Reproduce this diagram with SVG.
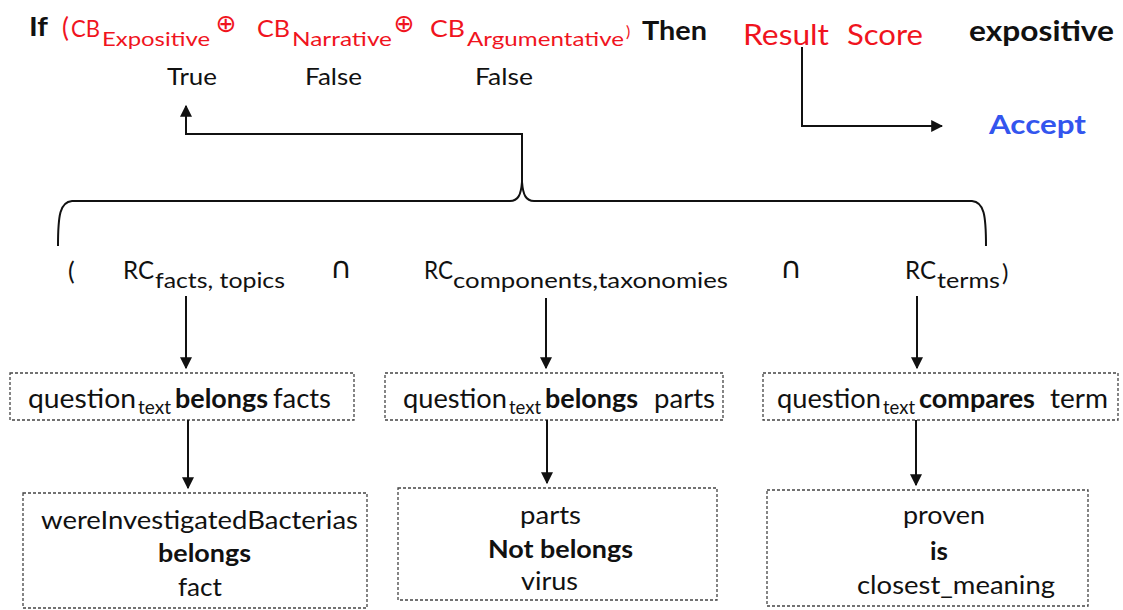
<svg xmlns="http://www.w3.org/2000/svg" width="1123" height="610" viewBox="0 0 1123 610">
  <style>
    text { font-family: Lato, "Liberation Sans", sans-serif; fill: #111; }
    .b { font-weight: bold; }
    .red { fill: #f0141e; }
    .blue { fill: #3355ee; }
    .op { font-family: "DejaVu Sans", sans-serif; }
    .line { fill: none; stroke: #111; stroke-width: 2; }
    .box { fill: #fff; stroke: #444; stroke-width: 1.3; stroke-dasharray: 3 2; }
    .t25 { font-size: 25px; }
    .q { font-size: 26px; }
    .qs { font-size: 20px; }
    .sub { font-size: 21px; }
  </style>
  <defs>
    <marker id="arrow" viewBox="0 0 10 10" refX="9" refY="5" markerWidth="6" markerHeight="6" orient="auto" markerUnits="strokeWidth">
      <path d="M0,0 L10,5 L0,10 Z" fill="#111"/>
    </marker>
  </defs>

  <!-- rule header: If (CB ⊕ CB ⊕ CB) Then -->
  <g id="rule">
    <text x="29" y="36" class="b" font-size="27" textLength="19" lengthAdjust="spacingAndGlyphs">If</text>
    <text x="62" y="37" class="red" font-size="26">(</text>
    <text x="71" y="37" class="red" font-size="24" textLength="29" lengthAdjust="spacingAndGlyphs">CB</text>
    <text x="102" y="46" class="red" font-size="20" textLength="108" lengthAdjust="spacingAndGlyphs">Expositive</text>
    <text x="226" y="32" class="red op" font-size="25" text-anchor="middle">⊕</text>
    <text x="257" y="37" class="red" font-size="24" textLength="33" lengthAdjust="spacingAndGlyphs">CB</text>
    <text x="292" y="46" class="red" font-size="20" textLength="100" lengthAdjust="spacingAndGlyphs">Narrative</text>
    <text x="404" y="32" class="red op" font-size="25" text-anchor="middle">⊕</text>
    <text x="430" y="37" class="red" font-size="24" textLength="35" lengthAdjust="spacingAndGlyphs">CB</text>
    <text x="467" y="46" class="red" font-size="20" textLength="157" lengthAdjust="spacingAndGlyphs">Argumentative</text>
    <text x="626" y="37" class="red" font-size="16">)</text>
    <text x="642" y="40" class="b" font-size="26" textLength="65" lengthAdjust="spacingAndGlyphs">Then</text>
  </g>

  <g id="truth-values">
    <text x="167" y="85" font-size="24" textLength="50" lengthAdjust="spacingAndGlyphs">True</text>
    <text x="305" y="85" font-size="24" textLength="57" lengthAdjust="spacingAndGlyphs">False</text>
    <text x="475" y="85" font-size="24" textLength="58" lengthAdjust="spacingAndGlyphs">False</text>
  </g>

  <g id="result-score">
    <text x="743" y="45" class="red" font-size="29" textLength="86" lengthAdjust="spacingAndGlyphs">Result</text>
    <text x="847" y="45" class="red" font-size="29" textLength="76" lengthAdjust="spacingAndGlyphs">Score</text>
  </g>
  <g id="expositive">
    <text x="969" y="41" class="b" font-size="28" textLength="145" lengthAdjust="spacingAndGlyphs">expositive</text>
  </g>
  <g id="accept">
    <text x="989" y="134" class="b blue" font-size="27" textLength="97" lengthAdjust="spacingAndGlyphs">Accept</text>
  </g>

  <!-- relation conjunction -->
  <g id="relations">
    <text x="68" y="280" font-size="25">(</text>
    <text x="123" y="279" font-size="25" textLength="31" lengthAdjust="spacingAndGlyphs">RC</text>
    <text x="155" y="288" class="sub" textLength="130" lengthAdjust="spacingAndGlyphs">facts, topics</text>
    <text x="341" y="278" class="op" font-size="30" text-anchor="middle">∩</text>
    <text x="424" y="279" font-size="25" textLength="29" lengthAdjust="spacingAndGlyphs">RC</text>
    <text x="453" y="288" class="sub" textLength="275" lengthAdjust="spacingAndGlyphs">components,taxonomies</text>
    <text x="791" y="278" class="op" font-size="30" text-anchor="middle">∩</text>
    <text x="905" y="279" font-size="25" textLength="31" lengthAdjust="spacingAndGlyphs">RC</text>
    <text x="937" y="288" class="sub" textLength="63" lengthAdjust="spacingAndGlyphs">terms</text>
    <text x="1002" y="281" font-size="24">)</text>
  </g>

  <!-- condition boxes -->
  <g id="cond-facts">
    <rect x="10" y="373" width="344" height="47" class="box"/>
    <text x="28" y="408" class="q" textLength="108" lengthAdjust="spacingAndGlyphs">question</text>
    <text x="138" y="414" class="qs" textLength="33" lengthAdjust="spacingAndGlyphs">text</text>
    <text x="175" y="408" class="q b" textLength="93" lengthAdjust="spacingAndGlyphs">belongs</text>
    <text x="273" y="408" class="q" textLength="58" lengthAdjust="spacingAndGlyphs">facts</text>
  </g>
  <g id="cond-parts">
    <rect x="385" y="373" width="338" height="47" class="box"/>
    <text x="403" y="408" class="q" textLength="104" lengthAdjust="spacingAndGlyphs">question</text>
    <text x="509" y="414" class="qs" textLength="32" lengthAdjust="spacingAndGlyphs">text</text>
    <text x="545" y="408" class="q b" textLength="93" lengthAdjust="spacingAndGlyphs">belongs</text>
    <text x="654" y="408" class="q" textLength="61" lengthAdjust="spacingAndGlyphs">parts</text>
  </g>
  <g id="cond-terms">
    <rect x="763" y="373" width="355" height="47" class="box"/>
    <text x="777" y="408" class="q" textLength="104" lengthAdjust="spacingAndGlyphs">question</text>
    <text x="883" y="414" class="qs" textLength="32" lengthAdjust="spacingAndGlyphs">text</text>
    <text x="919" y="408" class="q b" textLength="116" lengthAdjust="spacingAndGlyphs">compares</text>
    <text x="1050" y="408" class="q" textLength="58" lengthAdjust="spacingAndGlyphs">term</text>
  </g>

  <!-- result boxes -->
  <g id="fact-result">
    <rect x="23" y="493" width="344" height="115" class="box"/>
    <text x="41" y="529" class="t25" textLength="317" lengthAdjust="spacingAndGlyphs">wereInvestigatedBacterias</text>
    <text x="158" y="562" class="t25 b" textLength="93" lengthAdjust="spacingAndGlyphs">belongs</text>
    <text x="178" y="596" class="t25" textLength="44" lengthAdjust="spacingAndGlyphs">fact</text>
  </g>
  <g id="parts-result">
    <rect x="398" y="488" width="319" height="112" class="box"/>
    <text x="520" y="524" class="t25" textLength="61" lengthAdjust="spacingAndGlyphs">parts</text>
    <text x="488" y="558" class="t25 b" textLength="145" lengthAdjust="spacingAndGlyphs">Not belongs</text>
    <text x="521" y="590" class="t25" textLength="57" lengthAdjust="spacingAndGlyphs">virus</text>
  </g>
  <g id="terms-result">
    <rect x="767" y="490" width="321" height="116" class="box"/>
    <text x="903" y="524" class="t25" textLength="82" lengthAdjust="spacingAndGlyphs">proven</text>
    <text x="930" y="560" class="t25 b" textLength="18" lengthAdjust="spacingAndGlyphs">is</text>
    <text x="857" y="594" class="t25" textLength="198" lengthAdjust="spacingAndGlyphs">closest_meaning</text>
  </g>

  <!-- connectors -->
  <g id="connectors">
    <!-- brace grouping the three relations -->
    <path class="line" d="M58,246 C58,215 60,202 72,201 L510,201 C518,201 521,195 522,182 C523,195 526,201 534,201 L972,201 C984,202 986,215 986,246"/>
    <path class="line" d="M522,182 L522,134 L186,134 L186,106" marker-end="url(#arrow)"/>
    <path class="line" d="M802,47 L802,126 L942,126" marker-end="url(#arrow)"/>
    <path class="line" d="M186,296 L186,368" marker-end="url(#arrow)"/>
    <path class="line" d="M546,298 L546,368" marker-end="url(#arrow)"/>
    <path class="line" d="M917,296 L917,368" marker-end="url(#arrow)"/>
    <path class="line" d="M188,420 L188,488" marker-end="url(#arrow)"/>
    <path class="line" d="M547,420 L547,483" marker-end="url(#arrow)"/>
    <path class="line" d="M916,420 L916,485" marker-end="url(#arrow)"/>
  </g>
</svg>
